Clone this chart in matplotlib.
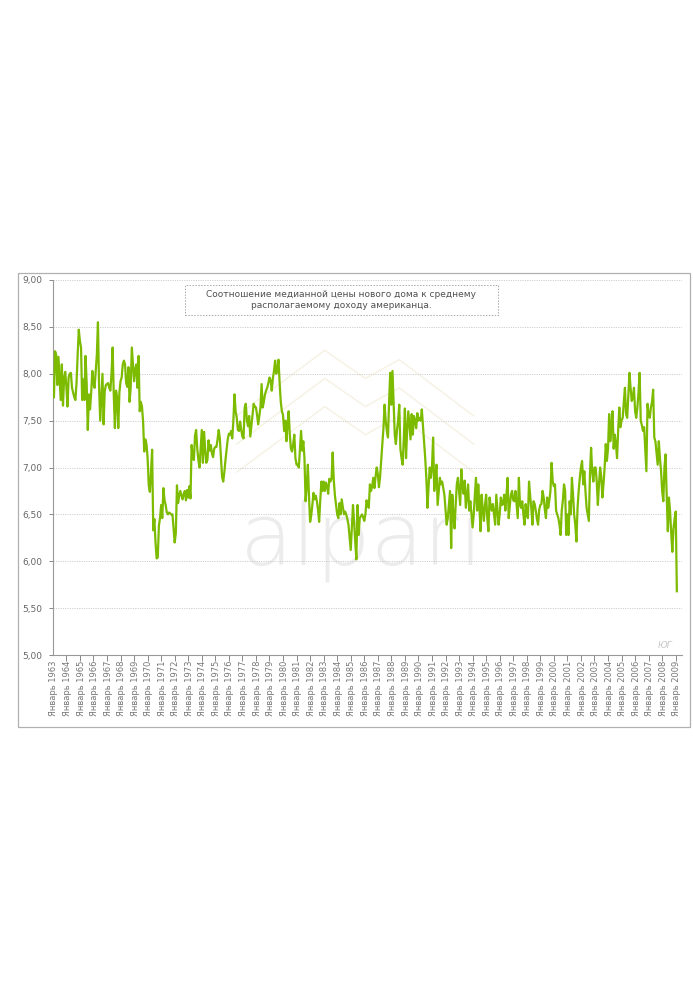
import numpy as np
import matplotlib
matplotlib.use("Agg")
import matplotlib.pyplot as plt
from matplotlib.patches import Rectangle


############################################
#                  DATA                    #
############################################

first_year = 1963

# monthly ratio, one row per year (Jan..Dec)
ratio_1960s = [
    7.75, 8.24, 8.20, 7.88, 8.18, 7.95, 7.72, 8.10, 7.66, 7.95, 8.02, 7.86,  # 1963
    7.65, 7.96, 8.00, 8.01, 7.85, 7.80, 7.75, 7.72, 7.90, 8.20, 8.47, 8.35,  # 1964
    8.28, 7.72, 7.94, 7.72, 8.19, 7.90, 7.40, 7.78, 7.62, 7.80, 8.03, 7.90,  # 1965
    7.85, 8.03, 8.20, 8.55, 7.85, 7.50, 7.75, 8.00, 7.46, 7.81, 7.88, 7.89,  # 1966
    7.90, 7.85, 7.82, 8.00, 8.28, 7.78, 7.42, 7.82, 7.75, 7.42, 7.80, 7.92,  # 1967
    7.96, 8.10, 8.14, 8.10, 7.90, 7.86, 8.07, 7.70, 7.85, 8.28, 8.10, 7.92,  # 1968
    8.05, 8.10, 7.85, 8.19, 7.60, 7.70, 7.65, 7.49, 7.17, 7.30, 7.25, 7.10,  # 1969
]
ratio_1970s = [
    6.81, 6.74, 6.95, 7.19, 6.33, 6.45, 6.20, 6.03, 6.04, 6.38, 6.46, 6.60,  # 1970
    6.46, 6.78, 6.65, 6.60, 6.52, 6.50, 6.52, 6.51, 6.50, 6.50, 6.35, 6.20,  # 1971
    6.30, 6.81, 6.62, 6.70, 6.75, 6.70, 6.66, 6.72, 6.75, 6.65, 6.76, 6.68,  # 1972
    6.80, 6.67, 7.24, 7.10, 7.08, 7.34, 7.40, 7.20, 7.08, 7.00, 7.20, 7.40,  # 1973
    7.05, 7.38, 7.20, 7.05, 7.08, 7.29, 7.18, 7.24, 7.15, 7.11, 7.20, 7.22,  # 1974
    7.22, 7.30, 7.40, 7.31, 7.10, 6.90, 6.85, 6.95, 7.08, 7.19, 7.30, 7.36,  # 1975
    7.35, 7.39, 7.31, 7.50, 7.78, 7.60, 7.53, 7.40, 7.39, 7.49, 7.40, 7.33,  # 1976
    7.31, 7.64, 7.68, 7.50, 7.44, 7.55, 7.33, 7.45, 7.58, 7.68, 7.65, 7.64,  # 1977
    7.56, 7.46, 7.55, 7.64, 7.89, 7.64, 7.70, 7.78, 7.82, 7.85, 7.90, 7.96,  # 1978
    7.93, 7.82, 7.95, 8.03, 8.14, 8.00, 8.05, 8.15, 7.90, 7.70, 7.60, 7.56,  # 1979
]
ratio_1980s = [
    7.39, 7.50, 7.28, 7.46, 7.60, 7.35, 7.20, 7.17, 7.25, 7.35, 7.10, 7.03,  # 1980
    7.03, 7.00, 7.20, 7.39, 7.18, 7.28, 7.10, 6.64, 6.80, 7.03, 6.70, 6.42,  # 1981
    6.49, 6.60, 6.73, 6.66, 6.70, 6.64, 6.55, 6.42, 6.65, 6.85, 6.75, 6.85,  # 1982
    6.75, 6.84, 6.80, 6.72, 6.88, 6.85, 6.88, 7.16, 6.86, 6.70, 6.60, 6.50,  # 1983
    6.46, 6.62, 6.50, 6.66, 6.58, 6.50, 6.53, 6.50, 6.45, 6.39, 6.25, 6.12,  # 1984
    6.35, 6.60, 6.42, 6.20, 6.02, 6.60, 6.28, 6.46, 6.48, 6.50, 6.47, 6.43,  # 1985
    6.50, 6.65, 6.60, 6.57, 6.82, 6.75, 6.80, 6.89, 6.78, 6.90, 7.00, 6.93,  # 1986
    6.79, 6.90, 7.08, 7.25, 7.42, 7.67, 7.50, 7.39, 7.32, 7.70, 8.01, 7.67,  # 1987
    8.03, 7.70, 7.35, 7.25, 7.40, 7.50, 7.67, 7.20, 7.10, 7.03, 7.30, 7.63,  # 1988
    7.10, 7.40, 7.60, 7.45, 7.30, 7.57, 7.35, 7.55, 7.50, 7.42, 7.58, 7.50,  # 1989
]
ratio_1990s = [
    7.53, 7.50, 7.62, 7.45, 7.28, 7.10, 6.89, 6.57, 6.80, 7.00, 6.89, 7.00,  # 1990
    7.32, 6.75, 6.90, 7.03, 6.60, 6.75, 6.89, 6.82, 6.85, 6.78, 6.71, 6.55,  # 1991
    6.39, 6.46, 6.60, 6.75, 6.14, 6.71, 6.50, 6.35, 6.60, 6.82, 6.89, 6.75,  # 1992
    6.60, 6.98, 6.80, 6.72, 6.86, 6.57, 6.70, 6.82, 6.54, 6.64, 6.50, 6.36,  # 1993
    6.50, 6.71, 6.89, 6.54, 6.82, 6.60, 6.32, 6.71, 6.55, 6.43, 6.60, 6.71,  # 1994
    6.46, 6.32, 6.68, 6.60, 6.54, 6.61, 6.50, 6.39, 6.71, 6.55, 6.39, 6.50,  # 1995
    6.68, 6.60, 6.61, 6.71, 6.54, 6.70, 6.89, 6.46, 6.60, 6.71, 6.75, 6.65,  # 1996
    6.64, 6.75, 6.60, 6.46, 6.89, 6.60, 6.57, 6.64, 6.50, 6.39, 6.61, 6.50,  # 1997
    6.46, 6.85, 6.70, 6.57, 6.39, 6.64, 6.61, 6.54, 6.45, 6.39, 6.55, 6.60,  # 1998
    6.61, 6.75, 6.68, 6.55, 6.46, 6.68, 6.57, 6.65, 6.75, 7.05, 6.85, 6.80,  # 1999
]
ratio_2000s = [
    6.82, 6.54, 6.50, 6.46, 6.39, 6.28, 6.54, 6.65, 6.82, 6.75, 6.28, 6.50,  # 2000
    6.28, 6.64, 6.50, 6.89, 6.71, 6.50, 6.39, 6.21, 6.57, 6.75, 6.89, 7.00,  # 2001
    7.07, 6.82, 6.96, 6.75, 6.57, 6.50, 6.43, 6.93, 7.21, 6.95, 6.85, 7.00,  # 2002
    7.00, 6.85, 6.60, 6.82, 7.00, 6.90, 6.68, 6.82, 7.00, 7.25, 7.07, 7.20,  # 2003
    7.57, 7.28, 7.45, 7.60, 7.20, 7.35, 7.25, 7.10, 7.40, 7.64, 7.43, 7.50,  # 2004
    7.53, 7.70, 7.85, 7.57, 7.53, 7.78, 8.01, 7.85, 7.71, 7.75, 7.85, 7.60,  # 2005
    7.53, 7.64, 7.80, 8.01, 7.50, 7.45, 7.39, 7.43, 7.20, 6.96, 7.68, 7.55,  # 2006
    7.53, 7.64, 7.70, 7.83, 7.32, 7.28, 7.15, 7.03, 7.28, 7.10, 6.96, 6.75,  # 2007
    6.64, 7.00, 7.14, 6.70, 6.32, 6.68, 6.53, 6.30, 6.10, 6.35, 6.45, 6.53,  # 2008
    5.68,                                                                    # 2009
]

label_years = list(range(1963, 2010))
y_ticks = [5.0, 5.5, 6.0, 6.5, 7.0, 7.5, 8.0, 8.5, 9.0]
y_labels = ["5,00", "5,50", "6,00", "6,50", "7,00", "7,50", "8,00", "8,50", "9,00"]

title = "Соотношение медианной цены нового дома к среднему\nрасполагаемому доходу американца."


############################################
#                PLOTTING                  #
############################################

ratio = np.array(ratio_1960s + ratio_1970s + ratio_1980s + ratio_1990s + ratio_2000s)
t = first_year + np.arange(len(ratio)) / 12.0

W, H = 693, 1000
fig = plt.figure(figsize=(W / 100, H / 100), dpi=100)
fig.patch.set_facecolor("white")

# outer frame
fig.patches.append(Rectangle((18 / W, 1 - 727 / H), 672 / W, 454 / H, transform=fig.transFigure,
                             fill=False, edgecolor="#b0b0b0", lw=0.9))

ax = fig.add_axes([53 / W, 1 - 655 / H, 629 / W, 375 / H])

# watermark (behind the line)
for dy in [0, 0.3, 0.6]:
    ax.plot([1976.5, 1983.0, 1986.0, 1988.5, 1994.0],
            [7.55 - dy, 8.25 - dy, 7.95 - dy, 8.15 - dy, 7.55 - dy],
            color="#f6f2e4", lw=1.1, zorder=0.5, solid_capstyle="round")
ax.text(1985.7, 6.22, "alpari", color="#ececec", fontsize=62, ha="center", va="center",
        family="DejaVu Sans", weight="light", zorder=0.4)

ax.plot(t, ratio, color="#7cbb00", lw=1.6, zorder=3, solid_joinstyle="round")

ax.set_xlim(1962.93, 2009.38)
ax.set_ylim(5.0, 9.0)

ax.set_yticks(y_ticks)
ax.set_yticklabels(y_labels)
ax.set_xticks(label_years)
ax.set_xticklabels(["Январь %d" % y for y in label_years], rotation=90)
ax.set_xticks([y + 11 / 12 for y in label_years[:-1]], minor=True)

ax.tick_params(axis="x", which="major", length=0, pad=4, labelsize=6, labelcolor="#777777")
ax.tick_params(axis="x", which="minor", length=4, width=0.7, color="#888888", direction="out")
ax.tick_params(axis="y", which="major", length=3, width=0.7, color="#888888", pad=5,
               labelsize=6.5, labelcolor="#666666")

for y in y_ticks[1:]:
    ax.axhline(y, color="#cfcfcf", lw=0.7, linestyle=(0, (1.2, 1.2)), zorder=1)

for s in ["top", "right"]:
    ax.spines[s].set_visible(False)
for s in ["left", "bottom"]:
    ax.spines[s].set_color("#999999")
    ax.spines[s].set_linewidth(0.8)

# title box
fig.patches.append(Rectangle((185 / W, 1 - 315 / H), 313 / W, 30 / H, transform=fig.transFigure,
                             fill=False, edgecolor="#aaaaaa", lw=0.7, linestyle=(0, (1.5, 1.5))))
fig.text(341 / W, 1 - 300 / H, title, ha="center", va="center", fontsize=6.5,
         color="#505050", linespacing=1.35)

fig.text(665 / W, 1 - 646 / H, "ЮГ", ha="center", va="center", fontsize=6.5,
         color="#c8c8c8", style="italic")

plt.savefig("out.png", dpi=100, facecolor="white")
